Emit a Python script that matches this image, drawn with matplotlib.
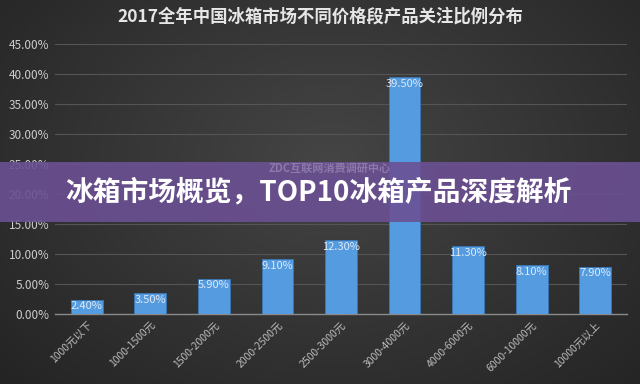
import numpy as np
import matplotlib.pyplot as plt
from matplotlib.patches import Rectangle

plt.rcParams['font.family'] = ['Noto Sans CJK SC', 'DejaVu Sans']

# Data
categories = ["1000元以下", "1000-1500元", "1500-2000元", "2000-2500元", "2500-3000元",
              "3000-4000元", "4000-6000元", "6000-10000元", "10000元以上"]
shares = [2.40, 3.50, 5.90, 9.10, 12.30, 39.50, 11.30, 8.10, 7.90]
yticks = [0, 5, 10, 15, 20, 25, 30, 35, 40, 45]

title = "2017全年中国冰箱市场不同价格段产品关注比例分布"
banner = "冰箱市场概览，TOP10冰箱产品深度解析"
watermark = "ZDC互联网消费调研中心"

fig = plt.figure(figsize=(6.4, 3.84), dpi=100)

# dark radial background
bg = fig.add_axes([0, 0, 1, 1], zorder=-10)
yy, xx = np.mgrid[0:384, 0:640]
r = np.sqrt(((xx - 330) / 420.0) ** 2 + ((yy - 160) / 300.0) ** 2)
shade = np.clip(0.27 - 0.12 * r, 0.11, 0.27)
bg.imshow(np.dstack([shade, shade, shade]), aspect='auto', extent=[0, 1, 0, 1])
bg.axis('off')

ax = fig.add_axes([55 / 640, 1 - 314 / 384, 572 / 640, 270 / 384])
ax.patch.set_alpha(0)
x = np.arange(len(categories))
bars = ax.bar(x, shares, width=0.5, color='#559be0', edgecolor='#3a78b8',
              linewidth=0.6, zorder=3)
for b, v in zip(bars, shares):
    ax.text(b.get_x() + b.get_width() / 2, v - 0.3, f"{v:.2f}%",
            ha='center', va='top', fontsize=8, color='#dde9f5', zorder=4)

ax.set_xlim(-0.5, len(categories) - 0.5)
ax.set_ylim(0, 45)
ax.set_yticks(yticks)
ax.set_yticklabels([f"{t:.2f}%" for t in yticks], fontsize=8.5, color='#cccccc')
ax.set_xticks(x)
ax.set_xticklabels(categories, rotation=45, ha='right', rotation_mode='anchor',
                   fontsize=7.5, color='#bbbbbb')
ax.tick_params(length=0, pad=4)
ax.grid(axis='y', color='#555555', linewidth=0.8, zorder=0)
for s in ['top', 'right', 'left']:
    ax.spines[s].set_visible(False)
ax.spines['bottom'].set_color('#8a8a8a')
ax.spines['bottom'].set_linewidth(1.0)

fig.text(0.5, 1 - 17 / 384, title, ha='center', va='center', fontsize=12.5,
         fontweight='bold', color='#e6e6e6')

# purple banner overlay
fig.patches.append(Rectangle((0, 1 - 222 / 384), 1, 60 / 384, transform=fig.transFigure,
                             facecolor='#6b5093', alpha=0.9, zorder=5))
fig.text(330 / 640, 1 - 168 / 384, watermark, ha='center', va='center', fontsize=8,
         fontweight='bold', color='#8c7aa8', zorder=6)
fig.text(318 / 640, 1 - 192 / 384, banner, ha='center', va='center', fontsize=20,
         fontweight='black', color='white', zorder=7)

fig.savefig("out.png", dpi=100)
